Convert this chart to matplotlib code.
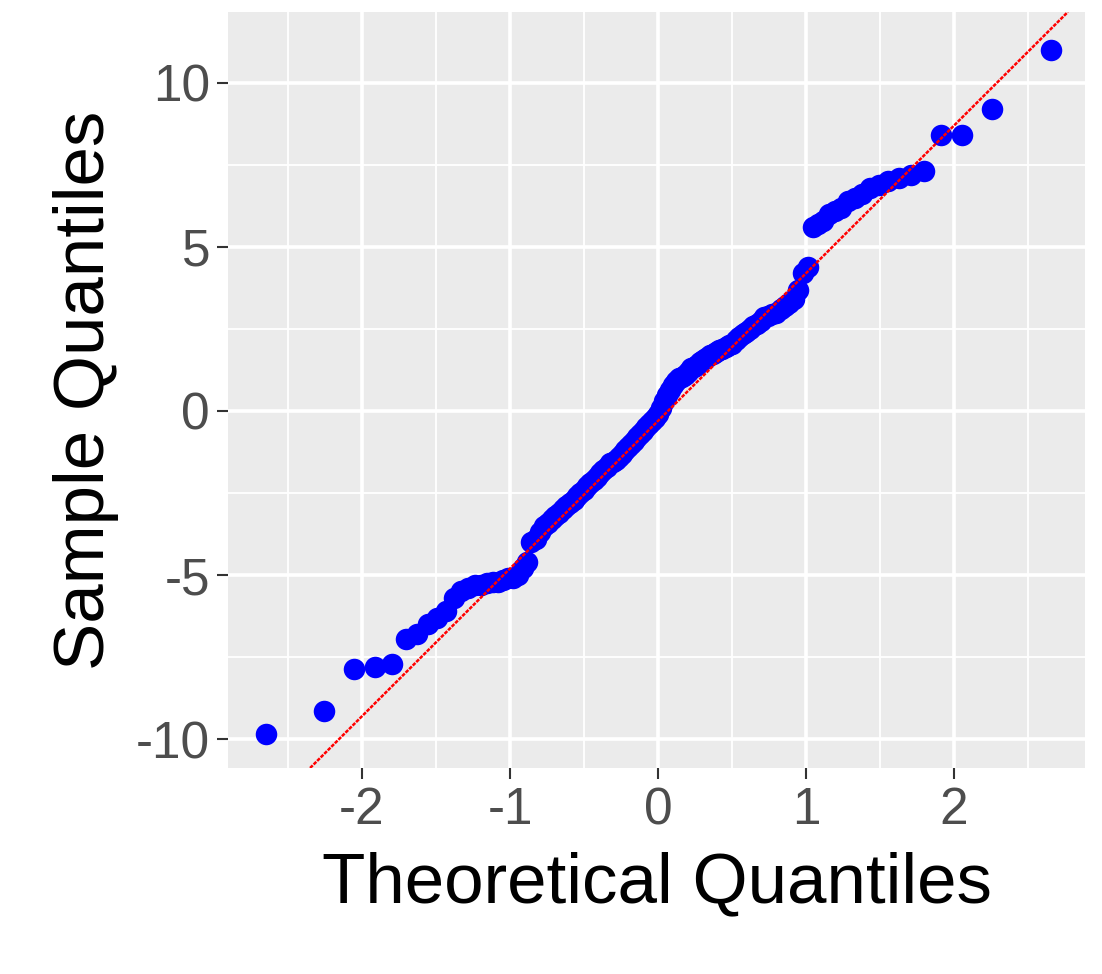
import statistics

import matplotlib

matplotlib.use("Agg")
import matplotlib.pyplot as plt

plt.rcParams["font.family"] = ["Liberation Sans", "DejaVu Sans"]

# sorted sample values (n = 125)
sample = [
    -9.85, -9.15, -7.85, -7.8, -7.7, -6.95, -6.8, -6.5, -6.3, -6.1,
    -5.7, -5.5, -5.4, -5.3, -5.3, -5.25, -5.2, -5.2, -5.15, -5.1,
    -5.1, -5.0, -4.8, -4.6, -4.0, -3.9, -3.7, -3.5, -3.4, -3.3,
    -3.2, -3.1, -3.0, -2.9, -2.8, -2.7, -2.6, -2.5, -2.4,
    -2.3, -2.2, -2.1, -2.0, -1.9, -1.8, -1.7, -1.6, -1.55, -1.5, -1.4, -1.3,
    -1.2, -1.1, -1.0, -0.9, -0.8, -0.7, -0.6, -0.5, -0.4, -0.3, -0.2, -0.1,
    0.1, 0.3, 0.5, 0.65, 0.8, 0.9, 1.0, 1.05, 1.1, 1.2, 1.3, 1.35,
    1.4, 1.5, 1.55, 1.6, 1.7, 1.75, 1.8, 1.85, 1.9, 1.95, 2.0, 2.05,
    2.15, 2.25, 2.35, 2.4, 2.5, 2.6, 2.65, 2.75, 2.85, 2.9, 2.95, 3.0,
    3.1, 3.2, 3.3, 3.4, 3.7, 4.2,
    4.4, 5.6,
    5.7, 5.8, 6.0, 6.1, 6.2, 6.4, 6.5, 6.6, 6.8, 6.9, 7.0, 7.1, 7.2,
    7.3, 8.4, 8.4, 9.2, 11.0,
]
n = len(sample)
theoretical = [statistics.NormalDist().inv_cdf((i + 0.5) / n) for i in range(n)]

LINE_INTERCEPT = -0.3
LINE_SLOPE = 4.5

x_major = [-2, -1, 0, 1, 2]
y_major = [-10, -5, 0, 5, 10]

fig = plt.figure(figsize=(11.02, 9.74), dpi=100)
ax = fig.add_axes([0.207, 0.2115, 0.7776, 0.7762])
ax.set_facecolor("#EBEBEB")

ax.set_xlim(-2.905, 2.885)
ax.set_ylim(-10.88, 12.16)
ax.set_xticks(x_major)
ax.set_yticks(y_major)
ax.set_xticks([-2.5, -1.5, -0.5, 0.5, 1.5, 2.5], minor=True)
ax.set_yticks([-7.5, -2.5, 2.5, 7.5], minor=True)
ax.grid(True, which="major", color="white", linewidth=2.6)
ax.grid(True, which="minor", color="white", linewidth=1.3)
ax.set_axisbelow(True)
for spine in ax.spines.values():
    spine.set_visible(False)

ax.scatter(theoretical, sample, s=240, color="blue", zorder=3, linewidths=0)
ax.axline((0, LINE_INTERCEPT), slope=LINE_SLOPE, color="red",
          linewidth=1.8, linestyle=(0, (1.5, 0.5)), zorder=4)

ax.tick_params(axis="both", which="major", labelsize=37, labelcolor="#4D4D4D",
               color="#333333", length=8, width=1.5, pad=5)
ax.tick_params(axis="both", which="minor", length=0)
ax.set_xticklabels(["-2", "-1", "0", "1", "2"])
ax.set_yticklabels(["-10", "-5", "0", "5", "10"])
ax.set_xlabel("Theoretical Quantiles", fontsize=51, labelpad=12)
ax.set_ylabel("Sample Quantiles", fontsize=51, labelpad=12)

fig.savefig("out.png")
